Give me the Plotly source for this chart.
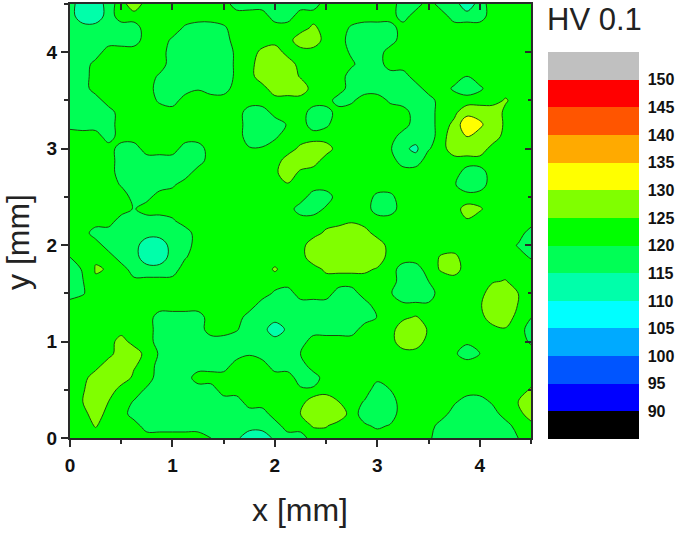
import plotly.graph_objects as go

# Hardness HV 0.1, rows from y = 4.5 (top) down to y = 0, columns x = 0 ... 4.5
grid_step = 0.125
hv_rows = [
[117,112,112,117,123,128,123,123,123,123,123,123,123,117,117,117,117,117,117,117,123,123,123,123,123,123,117,117,123,117,117,112,117,123,123,123,123],
[117,112,112,117,123,123,123,123,123,123,123,123,123,123,123,123,117,117,123,123,123,123,123,123,123,123,117,123,123,123,117,117,117,123,123,123,123],
[117,117,117,117,117,117,123,123,123,119,117,117,119,123,123,123,123,123,123,126,123,123,119,117,117,117,123,123,123,123,123,123,123,123,123,123,123],
[117,117,117,117,117,117,123,123,119,117,117,117,117,123,123,123,123,123,128,128,123,123,117,117,117,117,123,123,123,123,123,123,123,123,123,123,123],
[117,117,117,123,123,123,123,123,117,117,117,117,117,121,123,126,128,123,123,123,123,123,119,117,117,123,123,123,123,123,123,123,123,123,123,123,123],
[117,117,122,123,123,123,123,123,117,117,117,117,117,121,123,128,128,128,123,123,123,123,121,117,117,123,123,123,123,123,123,123,123,123,123,123,123],
[117,117,123,123,123,123,123,119,117,117,117,117,117,121,123,128,128,128,124.5,123,123,123,117,117,117,117,117,123,123,123,123,120,123,123,123,123,123],
[117,117,123,123,123,123,123,117,117,117,119.5,117,117,123,123,123,128,128,128,123,123,123,117,117,117,117,117,117,123,123,119,116,119,123,123,123,123],
[117,117,117,123,123,123,123,119,117,123,123,123,123,123,123,123,123,123,123,123,123,117,119,123,123,119,117,117,117,123,123,123,123,123,125.5,123,123],
[117,117,117,117,123,123,123,123,123,123,123,123,123,123,117,117,122,123,123,117,117,123,123,123,123,123,123,117,117,123,124,128,128,128,124,123,123],
[118,117,117,117,123,123,123,123,123,123,123,123,123,123,117,117,117,120.5,123,117,119,123,123,123,123,123,123,117,117,123,126,134.5,131,127,124.5,123,123],
[123,123,123,117,123,123,123,123,123,123,123,123,123,123,117,117,119,123,123,123,123,123,123,123,123,123,117,117,117,123,128,130,128,128,123,123,123],
[123,123,123,123,117,117,123,123,123,117,117,123,123,123,120.5,120.5,123,123,126,128,127,123,123,123,123,120.5,116,114,119.5,123,128,128,128,123,123,123,123],
[123,123,123,123,117,117,117,117,117,117,117,123,123,123,123,123,123,127,128,127,123,123,123,123,123,123,117,117,123,123,123,123,123,123,123,123,123],
[123,123,123,123,117,117,117,117,117,117,123,123,123,123,123,123,124,128,124,123,123,123,123,123,123,123,123,123,123,123,123,117,117,123,123,123,123],
[123,123,123,123,119.5,117,117,117,119,123,123,123,123,123,123,123,123,124.5,123,123,123,123,123,123,123,123,123,123,123,123,120.5,117,117,123,123,123,123],
[123,123,123,123,123,118,118,123,123,123,123,123,123,123,123,123,123,123,123,117,117,123,123,123,118.5,118.5,123,123,123,123,123,122,123,123,123,123,123],
[123,123,123,123,123,119.5,123,123,123,123,123,123,123,123,123,123,123,123,117,117,121,123,123,123,117,117,123,123,123,123,123,127,125.5,123,123,123,123],
[123,123,123,123,117,117,117,117,119,123,123,123,123,123,123,123,123,123,123,123,123,123,124.5,123,123,123,123,123,123,123,123,124.5,123,123,123,123,123],
[123,123,117,117,117,117,117,117,117,117,123,123,123,123,123,123,123,123,123,123,126,128,128,127,123,123,123,123,123,123,123,123,123,123,123,123,117],
[123,123,123,117,117,117,112,112,117,117,123,123,123,123,123,123,123,123,123,128,128,128,128,128,128,123,123,123,123,123,123,123,123,123,123,119.5,117],
[120,123,124.5,123,117,117,112,112,117,119.5,123,123,123,123,123,123,123,123,123,128,128,128,128,128,128,123,123,123,123,125.5,126,123,123,123,123,122,119.5],
[117,120.5,125.3,124.8,123,117,117,117,117,123,123,123,123,123,123,123,125.5,123,123,123,126,126,126,126,124.5,123,117,117,123,125.5,127,123,123,123,123,123,123],
[117,119.8,124.5,123,123,121.5,121.5,121.5,122,123,123,123,123,123,123,123,123,123,123,123,123,123,123,123,123,123,117,117,120,123,123,123,123,124.5,125.3,123,123],
[117,119.5,123,123,123,123,123,123,123,123,123,123,123,123,123,123,119,117,123,123,123,117,117,123,123,120.5,117,117,117,123,123,123,123,128,128,125,123],
[123,123,123,123,123,123,123,123,123,123,123,123,123,123,123,117,117,117,117,117,117,117,117,117,123,123,121,121,121,123,123,123,124.5,128,128,124.8,123],
[123,123,123,123,123,123,123,117,117,117,117,123,123,123,117,117,117,117,117,117,117,117,117,117,120.2,123,124,125.5,123,123,123,123,123,128,128,123,120.2],
[123,123,123,123,123,123,123,117,117,117,117,123,123,120.5,117,117,112,116,117,117,117,117,117,123,123,123,128,128,124.5,123,123,123,123,123,124.5,123,117],
[123,123,123,123,127,123,123,117,117,117,117,117,117,117,117,117,117,117,117,123,123,123,123,123,123,123,128,128,123,123,123,121,123,123,123,123,119],
[123,123,123,123,128,128,123,119.5,117,117,117,117,117,117,119.5,117,117,117,120,123,123,123,123,123,123,123,123,123,123,123,121,117,120,123,123,123,123],
[123,123,123,128,128,125.5,123,118,117,117,117,117,117,123,123,123,117,117,117,123,123,123,123,123,123,123,123,123,123,123,123,123,123,123,123,123,123],
[123,123,128,128,128,124,123,117,117,117,123,123,123,123,123,123,123,123,117,117,123,123,123,123,121.5,123,123,123,123,123,123,123,123,123,123,123,123],
[123,124.5,128,128,123,123,119,117,117,117,117,117,123,123,123,123,123,123,121,121,123,123,123,123,117,120,123,123,123,123,123,123,123,123,123,123,125.5],
[123,125,128,125,123,119.5,117,117,117,117,117,117,117,117,123,123,123,123,123,128,128,125,123,119.5,117,117,123,123,123,123,121,117,117,121,123,125,128],
[123,123,128,123,123,117,117,117,117,117,117,117,117,117,117,117,123,123,125,128,128,128,123,117,117,117,123,123,123,123,117,117,117,117,123,123,128],
[123,123,125.3,123,123,123,117,117,117,117,117,117,117,117,117,117,117,123,123,125.3,125.3,123,123,121,119,120.5,123,123,123,117,117,117,117,117,117,123,123],
[123,123,123,123,123,123,123,123,123,123,123,120,117,116,112,112,116,117,117,123,123,123,123,123,123,123,123,123,121,117,117,117,117,117,117,120,123],
]
levels_start, levels_end, levels_size = 90, 150, 5
band_colors = ["#000000", "#0000ff", "#0055ff", "#00aaff", "#00ffff", "#00ffaa", "#00ff55",
               "#00ff00", "#80ff00", "#ffff00", "#ffaa00", "#ff5500", "#ff0000", "#c0c0c0"]
colorbar_ticks = [90, 95, 100, 105, 110, 115, 120, 125, 130, 135, 140, 145, 150]
axis_major = [0, 1, 2, 3, 4]

zmin, zmax = 85, 155
scale = []
for i, c in enumerate(band_colors):
    scale.append([i / len(band_colors), c])
    scale.append([(i + 1) / len(band_colors), c])

z = hv_rows[::-1]
FONT = "Liberation Sans, Arial, sans-serif"
SMOOTH = 1.0

fig = go.Figure()
fig.add_trace(go.Contour(
    z=z, x0=0, dx=grid_step, y0=0, dy=grid_step,
    zmin=zmin, zmax=zmax, zauto=False, colorscale=scale,
    contours=dict(start=levels_start, end=levels_end, size=levels_size, coloring="fill", showlines=False),
    line=dict(width=0, smoothing=SMOOTH),
    hoverinfo="skip",
    colorbar=dict(
        thickness=91, thicknessmode="pixels", len=387, lenmode="pixels",
        x=1.0365, xanchor="left", y=0.889, yanchor="top", xpad=0, ypad=0,
        outlinewidth=0, borderwidth=0,
        tickmode="array", tickvals=colorbar_ticks, ticktext=[str(v) for v in colorbar_ticks],
        ticks="outside", ticklen=6, tickwidth=1, tickcolor="rgba(0,0,0,0)",
        tickfont=dict(family=FONT, size=16, color="#111111", weight="bold"),
    ),
))
fig.add_trace(go.Contour(
    z=z, x0=0, dx=grid_step, y0=0, dy=grid_step,
    xaxis="x2", yaxis="y2",
    zmin=zmin, zmax=zmax, zauto=False, showscale=False,
    colorscale=[[0, "#1c4a10"], [1, "#1c4a10"]],
    contours=dict(start=levels_start, end=levels_end, size=levels_size, coloring="none", showlines=True),
    line=dict(width=1, color="#1c4a10", smoothing=SMOOTH),
    hoverinfo="skip",
))

axis_common = dict(range=[0, 4.5], showgrid=False, zeroline=False, showline=True,
                   linecolor="#2a2a2a", linewidth=2, tickcolor="#2a2a2a", tickwidth=2)
label_font = dict(family=FONT, size=19, color="#111111", weight="bold")
title_font = dict(family=FONT, size=32, color="#222222")

fig.update_layout(
    width=679, height=533, autosize=False,
    margin=dict(l=70, r=146, t=4, b=95, pad=0),
    paper_bgcolor="white", plot_bgcolor="white",
    font=dict(family=FONT),
    xaxis=dict(**axis_common, side="bottom", ticks="outside", ticklen=7, tickmode="array",
               tickvals=axis_major, tickfont=label_font, ticklabelstandoff=2,
               minor=dict(dtick=0.5, ticks="outside", ticklen=4, tickwidth=2, tickcolor="#2a2a2a", showgrid=False)),
    yaxis=dict(**axis_common, side="left", ticks="outside", ticklen=7, tickmode="array",
               tickvals=axis_major, tickfont=label_font,
               minor=dict(dtick=0.5, ticks="outside", ticklen=4, tickwidth=2, tickcolor="#2a2a2a", showgrid=False)),
    xaxis2=dict(**axis_common, overlaying="x", anchor="y2", side="top", ticks="inside", ticklen=6,
                tickmode="array", tickvals=axis_major, showticklabels=False,
                minor=dict(dtick=0.5, ticks="inside", ticklen=6, tickwidth=2, tickcolor="#2a2a2a", showgrid=False)),
    yaxis2=dict(**axis_common, overlaying="y", anchor="x2", side="right", ticks="inside", ticklen=6,
                tickmode="array", tickvals=axis_major, showticklabels=False,
                minor=dict(dtick=0.5, ticks="inside", ticklen=3, tickwidth=2, tickcolor="#2a2a2a", showgrid=False)),
    annotations=[
        dict(text="HV 0.1", xref="paper", yref="paper", x=1.0295, y=0.9955, xanchor="left", yanchor="middle",
             yshift=-14, showarrow=False, font=dict(family=FONT, size=31, color="#222222")),
        dict(text="x [mm]", xref="paper", yref="paper", x=0.5, y=0, xanchor="center", yanchor="middle",
             yshift=-72, xshift=-1, showarrow=False, font=title_font),
        dict(text="y [mm]", xref="paper", yref="paper", x=0, y=0.5, xanchor="center", yanchor="middle",
             textangle=-90, xshift=-52, yshift=-21, showarrow=False, font=title_font),
    ],
)

fig.write_html("out.html", config=dict(displayModeBar=False),
               post_script="document.body.style.margin='0';document.body.style.overflow='hidden';")
